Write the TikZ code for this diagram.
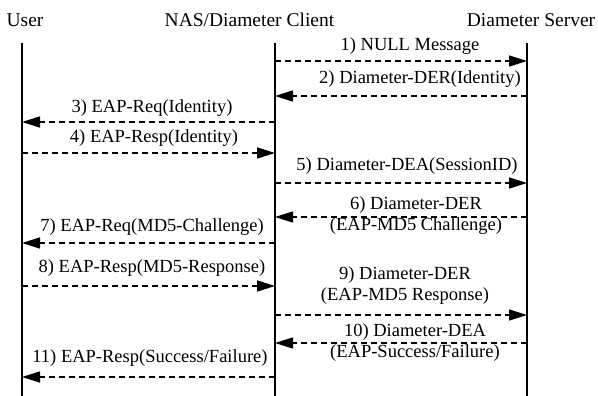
\documentclass[tikz,border=0pt]{standalone}
\usepackage{fontspec}
\setmainfont{Liberation Serif}
\usetikzlibrary{arrows.meta, positioning}

\tikzset{
  hdr/.style={font=\fontsize{19.5}{22}\selectfont, inner sep=0pt},
  lbl/.style={font=\fontsize{18.5}{21}\selectfont, inner sep=0pt, align=center},
  life/.style={line width=2pt},
  msg/.style={line width=1.5pt, dash pattern=on 6pt off 4pt, -{Triangle[length=18pt,width=11pt]}}
}

\begin{document}
\begin{tikzpicture}[x=1pt, y=-1pt]
\useasboundingbox (0,0) rectangle (598,396);

% Participants
\node[hdr] (user) at (25,20) {User};
\node[hdr] (nas) at (249.5,20) {NAS/Diameter Client};
\node[hdr] (srv) at (531,20) {Diameter Server};

% Lifelines
\coordinate (u) at (22,43);
\coordinate (n) at (275,43);
\coordinate (s) at (527,43);
\draw[life] (u) -- (u |- 0,396);
\draw[life] (n) -- (n |- 0,396);
\draw[life] (s) -- (s |- 0,396);

% Messages
\draw[msg] (n |- 0,61) -- (s |- 0,61);
\node[lbl] (m1) at (410,46) {1) NULL Message};

\draw[msg] (s |- 0,96) -- (n |- 0,96);
\node[lbl] (m2) at (420,79) {2) Diameter-DER(Identity)};

\draw[msg] (n |- 0,122) -- (u |- 0,122);
\node[lbl] (m3) at (152,108) {3) EAP-Req(Identity)};

\draw[msg] (u |- 0,153) -- (n |- 0,153);
\node[lbl] (m4) at (154,138) {4) EAP-Resp(Identity)};

\draw[msg] (n |- 0,183) -- (s |- 0,183);
\node[lbl] (m5) at (407,166) {5) Diameter-DEA(SessionID)};

\draw[msg] (s |- 0,217) -- (n |- 0,217);
\node[lbl] (m6) at (416,215.5) {6) Diameter-DER\\(EAP-MD5 Challenge)};

\draw[msg] (n |- 0,243) -- (u |- 0,243);
\node[lbl] (m7) at (152,227) {7) EAP-Req(MD5-Challenge)};

\draw[msg] (u |- 0,286) -- (n |- 0,286);
\node[lbl] (m8) at (152,268) {8) EAP-Resp(MD5-Response)};

\draw[msg] (n |- 0,315) -- (s |- 0,315);
\node[lbl] (m9) at (405,286) {9) Diameter-DER\\(EAP-MD5 Response)};

\draw[msg] (s |- 0,343) -- (n |- 0,343);
\node[lbl] (m10) at (415,342.5) {10) Diameter-DEA\\(EAP-Success/Failure)};

\draw[msg] (n |- 0,377) -- (u |- 0,377);
\node[lbl] (m11) at (150,358) {11) EAP-Resp(Success/Failure)};
\end{tikzpicture}
\end{document}
